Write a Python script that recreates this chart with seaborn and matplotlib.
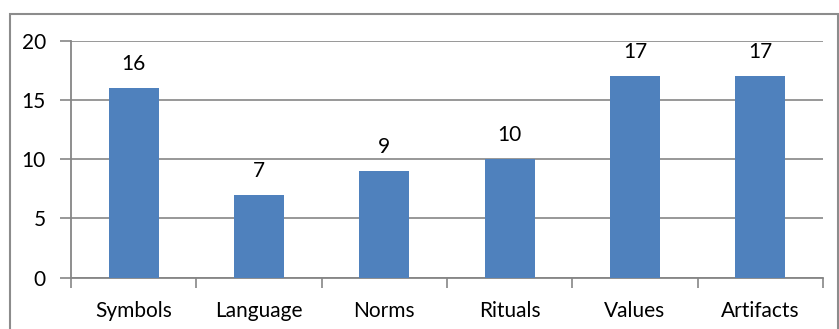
import matplotlib
matplotlib.use("Agg")
import matplotlib.pyplot as plt
import seaborn as sns
import pandas as pd
from matplotlib.patches import Rectangle

categories = ["Symbols", "Language", "Norms", "Rituals", "Values", "Artifacts"]
values = [16, 7, 9, 10, 17, 17]
yticks = [0, 5, 10, 15, 20]

sns.set_theme(style="white")
plt.rcParams["font.family"] = ["Lato", "DejaVu Sans"]

df = pd.DataFrame({"cat": categories, "val": values})

fig = plt.figure(figsize=(8.39, 3.29), dpi=100)
ax = fig.add_axes([71/839, 1 - 277.7/329, (823 - 71)/839, (277.7 - 40.7)/329])

sns.barplot(data=df, x="cat", y="val", color="#4F81BD", saturation=1,
            width=0.4, ax=ax, zorder=3, linewidth=0, edgecolor="none")

gray = "#868686"
fs = 15
ax.set_ylim(0, 20)
ax.set_xlim(-0.5, len(categories) - 0.5)
ax.set_yticks(yticks)
ax.set_yticklabels([str(t) for t in yticks], fontsize=fs, color="black")
ax.yaxis.grid(True, color=gray, linewidth=1.2, zorder=0)
ax.set_axisbelow(True)
ax.set_xlabel("")
ax.set_ylabel("")

for s in ["top", "right"]:
    ax.spines[s].set_visible(False)
for s in ["left", "bottom"]:
    ax.spines[s].set_color(gray)
    ax.spines[s].set_linewidth(1.3)

ax.tick_params(axis="y", which="major", length=8, width=1.2, color=gray, pad=10, left=True)
ax.set_xticks(range(len(categories)))
ax.set_xticklabels(categories, fontsize=fs, color="black")
ax.tick_params(axis="x", which="major", length=0, pad=17)
ax.set_xticks([i - 0.5 for i in range(len(categories) + 1)], minor=True)
ax.tick_params(axis="x", which="minor", length=7, width=1.2, color=gray, bottom=True)

for i, v in enumerate(values):
    ax.annotate(str(v), (i, v), xytext=(0, 10), textcoords="offset points",
                ha="center", va="bottom", fontsize=fs, color="black")

fig.patches.append(Rectangle((10/839, -0.05), (838 - 10)/839, 1 - 14/329 + 0.05,
                             transform=fig.transFigure, fill=False,
                             edgecolor="#8C8C8C", linewidth=1.5))

fig.savefig("out.png", dpi=100)
